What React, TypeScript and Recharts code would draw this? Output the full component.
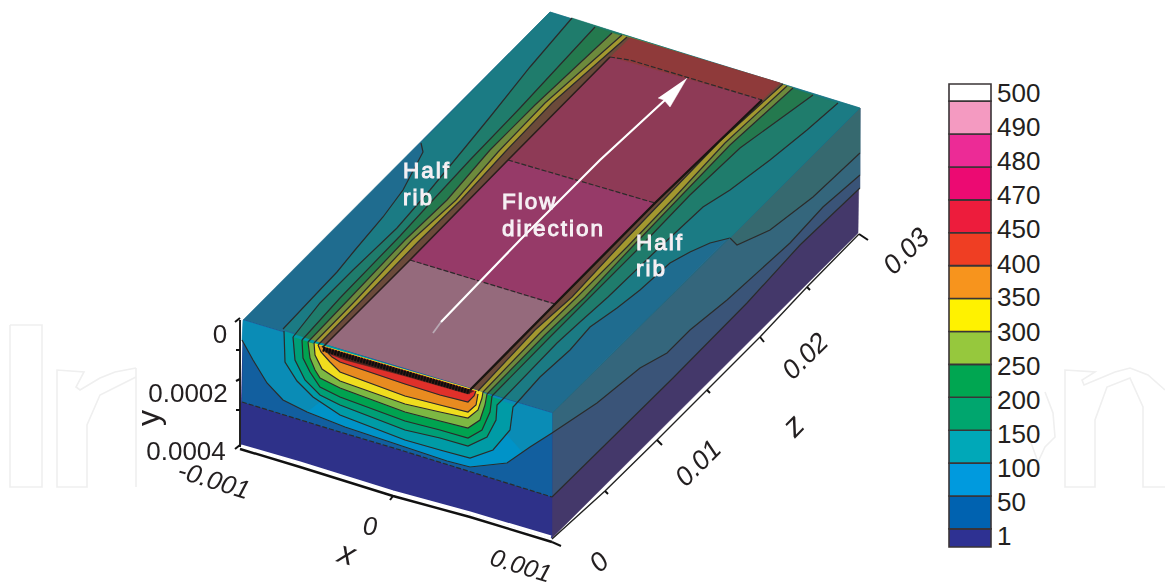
import React from 'react';
import { BarChart, Bar, ScatterChart, Scatter, XAxis, YAxis, Cell } from 'recharts';

type Pt = [number, number];

// picture-plane readings of the block faces
const frontFace: Pt[] = [[243, 320], [552, 413], [552, 538], [240, 446]];
const topFace: Pt[] = [[243, 320], [550, 12], [860, 108], [552, 413]];
const rightFace: Pt[] = [[552, 413], [860, 108], [858, 233], [552, 538]];

// right face contours
const rightLine1: Pt[] = [[730, 238], [737, 245], [770, 230], [813, 197], [860, 153]];
const rightLine2: Pt[] = [[552, 433], [597, 403], [640, 368], [667, 353], [690, 330], [727, 300], [790, 243], [823, 207], [860, 175]];
const rightLine3: Pt[] = [[552, 497], [607, 443], [673, 378], [747, 303], [800, 245], [860, 188]];
const faceEdgeUpper: Pt[] = [[552, 413], [730, 238], [860, 108]];

// top face contours, front edge to back edge
const left0: Pt[] = [[283, 329], [317, 293], [337, 272], [355, 250], [383, 217], [403, 190], [423, 152], [421, 143]];
const left1: Pt[] = [[293, 337], [320, 303], [353, 270], [397, 228], [430, 190], [463, 150], [490, 117], [530, 67], [572, 18]];
const left2: Pt[] = [[302, 340], [340, 298], [400, 236], [433, 200], [470, 160], [520, 108], [595, 27]];
const left3: Pt[] = [[308, 342], [350, 298], [405, 240], [447, 200], [490, 150], [535, 105], [612, 33]];
const left4: Pt[] = [[314, 343], [356, 300], [412, 240], [456, 200], [498, 152], [545, 103], [622, 35]];
const left5: Pt[] = [[318, 345], [362, 300], [418, 242], [461, 200], [505, 152], [552, 103], [627, 37]];
const right0: Pt[] = [[515, 405], [540, 377], [570, 350], [590, 327], [617, 308], [640, 290], [670, 263], [690, 252], [710, 243], [730, 238]];
const right1: Pt[] = [[502, 400], [557, 343], [580, 322], [608, 297], [660, 247], [703, 207], [730, 190], [770, 160], [807, 130], [838, 103]];
const right2: Pt[] = [[492, 396], [550, 337], [590, 297], [640, 247], [690, 195], [740, 148], [813, 95]];
const right3: Pt[] = [[487, 394], [545, 335], [585, 297], [632, 247], [680, 197], [730, 145], [793, 88]];
const right4: Pt[] = [[483, 392], [540, 333], [577, 297], [627, 247], [675, 197], [725, 143], [787, 86]];
const right5: Pt[] = [[478, 391], [535, 330], [572, 297], [622, 243], [670, 193], [720, 141], [783, 84]];

// front face contours, left crossing to right crossing
const frontDark: Pt[] = [[242, 402], [330, 429], [397, 449], [468, 471], [552, 497]];
const frontBlue: Pt[] = [[242, 340], [253, 360], [267, 383], [283, 400], [307, 412], [345, 427], [405, 447], [447, 461], [470, 467], [507, 463], [530, 447], [552, 433]];
const frontBright: Pt[] = [[307, 412], [345, 427], [405, 447], [447, 461], [470, 467], [507, 463], [522, 452], [507, 435], [493, 450], [470, 458], [440, 450], [405, 440], [340, 415], [320, 402]];
const front0: Pt[] = [[284, 331], [285, 362], [297, 381], [313, 397], [340, 415], [405, 440], [440, 450], [470, 458], [493, 450], [510, 430], [513, 407], [515, 405]];
const front1: Pt[] = [[293, 337], [295, 360], [305, 380], [320, 395], [340, 405], [405, 430], [440, 438], [468, 446], [487, 437], [496, 420], [497, 405], [502, 400]];
const front2: Pt[] = [[302, 340], [303, 358], [310, 372], [320, 387], [340, 397], [405, 421], [440, 430], [468, 438], [482, 430], [490, 412], [492, 396]];
const front3: Pt[] = [[308, 342], [310, 358], [315, 370], [320, 378], [340, 388], [405, 412], [440, 421], [468, 428], [480, 420], [485, 405], [487, 394]];
const front4: Pt[] = [[314, 343], [315, 355], [322, 369], [340, 381], [405, 404], [440, 412], [468, 418], [478, 410], [482, 398], [483, 392]];
const front5: Pt[] = [[318, 345], [321, 352], [330, 362], [340, 372], [405, 396], [440, 405], [468, 412], [476, 405], [478, 394]];
const front6: Pt[] = [[322, 346], [325, 350], [332, 357], [340, 362], [405, 384], [440, 395], [468, 402], [474, 396], [476, 391]];
const front7: Pt[] = [[323, 347], [330, 354], [345, 360], [405, 376], [440, 386], [468, 394], [474, 391]];

// channel panels
const panelFront: Pt[] = [[323, 347], [470, 390], [555, 304], [410, 260]];
const panelMiddle: Pt[] = [[410, 260], [555, 304], [655, 203], [508, 160]];
const panelBack: Pt[] = [[508, 160], [655, 203], [762, 100], [610, 57]];
const backStrip: Pt[] = [[630, 38], [780, 83], [762, 100], [610, 57]];
const channelFront: Pt[] = [[323, 349], [470, 392]];
const channelLeft: Pt[] = [[323, 347], [410, 260], [508, 160], [610, 57]];
const channelRight: Pt[] = [[470, 390], [555, 304], [655, 203], [762, 100]];
const panelLines: Pt[][] = [[[410, 260], [555, 304]], [[508, 160], [655, 203]], [[610, 57], [630, 60], [762, 100]]];

// flow arrow
const arrowTail: Pt[] = [[433, 333], [441, 322]];
const arrowShaft: Pt[] = [[441, 322], [520, 240], [600, 160], [665, 100]];
const arrowHead: Pt[] = [[687, 78], [670, 107], [664, 100], [658, 98]];

// axes
const axisY: Pt[] = [[240, 320], [240, 447]];
const axisX: Pt[] = [[240, 449], [300, 467], [393, 496], [470, 517], [552, 542]];
const axisXWhite: Pt[] = [[241, 446], [300, 463], [393, 492], [470, 513], [551, 537]];
const axisZ: Pt[] = [[552, 539], [605, 491], [657, 440], [707, 390], [760, 337], [807, 287], [859, 234]];
const tickMarks: Pt[][] = [
    [[235, 322], [240, 318]], [[236, 350], [240, 350]], [[236, 381], [240, 379]], [[236, 410], [240, 410]], [[235, 449], [240, 445]],
    [[393, 496], [390, 500]], [[552, 542], [561, 546]], [[657, 440], [662, 445]], [[760, 337], [764, 342]], [[605, 491], [608, 494]],
    [[707, 390], [710, 393]], [[859, 234], [868, 240]], [[807, 287], [810, 290]],
];

// watermark letters
const markLetters: Pt[][] = [
    [[10, 325], [42, 325], [42, 487], [10, 487], [10, 325]],
    [[136, 368], [115, 372], [100, 378], [80, 390], [76, 387], [84, 372], [57, 370], [57, 487], [87, 487], [87, 425], [100, 395], [136, 377]],
    [[136, 368], [136, 487]],
    [[1045, 392], [1053, 413], [1055, 437], [1045, 447], [1038, 462], [1030, 440]],
    [[1165, 390], [1148, 375], [1130, 368], [1115, 372], [1084, 385], [1082, 380], [1095, 372], [1065, 370], [1065, 487], [1095, 487], [1095, 420], [1107, 387], [1130, 378], [1143, 407], [1143, 487], [1165, 487]],
];

// text on the picture
const plotLabels = ['Half', 'rib', 'Flow', 'direction', 'Half', 'rib'];
const plotLabelAt: Pt[] = [[403, 178], [403, 205], [502, 209], [502, 236], [636, 250], [636, 276]];
const axisLabels = ['0', '0.0002', '0.0004', 'y', '-0.001', '0', 'x', '0.001', '0', '0.01', 'z', '0.02', '0.03'];
const axisLabelAt: Pt[] = [[220, 334], [188, 393], [186, 451], [148, 418], [214, 480], [370, 526], [347, 553], [521, 565], [599, 562], [698, 463], [793, 425], [805, 356], [906, 251]];
const axisLabelTilt = [0, 0, 0, -90, 17, 0, 17, 17, -45, -45, -45, -45, -45];
const axisLabelItalic = [false, false, false, false, true, true, true, true, true, true, true, true, true];
const axisLabelSize = [26, 26, 26, 32, 26, 26, 32, 25, 27, 27, 32, 27, 27];

// colour bar
const legendLabels = ['1', '50', '100', '150', '200', '250', '300', '350', '400', '450', '470', '480', '490', '500'];
const legendTickAt = [0.33, 1.37, 2.4, 3.44, 4.48, 5.51, 6.55, 7.59, 8.62, 9.66, 10.7, 11.73, 12.77, 13.8];
const legendSpans = [0.55, 1, 1, 1, 1, 1, 1, 1, 1, 1, 1, 1, 1, 1, 0.52];
const legendColors = ['#2e3192', '#0062b0', '#009ade', '#00a8b8', '#00a66e', '#00a651', '#96c83d', '#fff200', '#f7941d', '#ef3e23', '#ed1c3c', '#ec0a72', '#ec2b96', '#f49ac1', '#ffffff'];

const toPoints = (pts: Pt[]) => pts.map(([x, y]) => ({ x, y }));
const noDot = () => <g />;

const fillRegion = (pts: Pt[], color: string, key: string) => (
    <Scatter
        key={key}
        data={toPoints(pts)}
        shape={noDot}
        isAnimationActive={false}
        line={{ fill: color, stroke: color, strokeWidth: 0.5 }}
    />
);

const strokeLine = (pts: Pt[], key: string, color = '#2b2b2b', width = 1.2, dash?: string) => (
    <Scatter
        key={key}
        data={toPoints(pts)}
        shape={noDot}
        isAnimationActive={false}
        line={{ fill: 'none', stroke: color, strokeWidth: width, strokeDasharray: dash }}
    />
);

const textDot = (props: any) => {
    const { cx, cy, payload } = props;
    return (
        <text
            x={cx}
            y={cy}
            transform={payload.tilt ? `rotate(${payload.tilt} ${cx} ${cy})` : undefined}
            textAnchor={payload.anchor}
            dominantBaseline={payload.baseline}
            fontFamily="Liberation Sans"
            fontSize={payload.size}
            fontStyle={payload.italic ? 'italic' : 'normal'}
            fill={payload.color}
            letterSpacing={payload.spacing}
            stroke={payload.outline}
            strokeWidth={payload.outline ? 1 : 0}
        >
            {payload.text}
        </text>
    );
};

const plotTextData = plotLabels.map((text, i) => ({
    x: plotLabelAt[i][0], y: plotLabelAt[i][1], text, anchor: 'start', baseline: 'auto',
    size: 22.5, color: '#f6f0f4', spacing: 2, outline: '#f6f0f4', tilt: 0, italic: false,
}));
const axisTextData = axisLabels.map((text, i) => ({
    x: axisLabelAt[i][0], y: axisLabelAt[i][1], text, anchor: 'middle', baseline: 'central',
    size: axisLabelSize[i], color: '#231f20', spacing: 0, tilt: axisLabelTilt[i], italic: axisLabelItalic[i],
}));

const topBands: [Pt[], string][] = [
    [[...left0, [550, 12], [860, 108], ...[...right0].reverse()], '#1b7b84'],
    [[...left1, ...[...right1].reverse()], '#1f7c6c'],
    [[...left2, ...[...right2].reverse()], '#24794e'],
    [[...left3, ...[...right3].reverse()], '#6d8a3c'],
    [[...left4, ...[...right4].reverse()], '#a3982f'],
    [[...left5, ...[...right5].reverse()], '#6b4a3a'],
];
const frontBands: [Pt[], string][] = [
    [[[243, 320], [552, 413], ...[...frontDark].reverse()], '#125f9f'],
    [[[243, 320], ...frontBlue, [552, 413]], '#0a8cb6'],
    [frontBright, '#0093c8'],
    [front0, '#009ba6'],
    [front1, '#009f76'],
    [front2, '#00a350'],
    [front3, '#7db843'],
    [front4, '#f0dd1e'],
    [front5, '#e88b20'],
    [front6, '#e0302a'],
    [front7, '#4a241e'],
];
const contourLines = [left0, left1, left2, left3, left4, left5, right0, right1, right2, right3, right4, right5, rightLine1, rightLine2, rightLine3, frontBlue, front0, front1, front2, front3, front4, front5, front6];

const legendRow = [Object.fromEntries(legendSpans.map((v, i) => [`band${i}`, v]))];

const App: React.FC = () => (
    <div style={{ position: 'absolute', left: 0, top: 0, width: 1165, height: 588, background: '#fff', overflow: 'hidden' }}>
        <div style={{ position: 'absolute', left: 0, top: 0, filter: 'blur(0.5px)' }}>
            <ScatterChart width={1165} height={588} margin={{ top: 0, right: 0, bottom: 0, left: 0 }}>
                <XAxis type="number" dataKey="x" domain={[0, 1165]} hide />
                <YAxis type="number" dataKey="y" domain={[0, 588]} reversed hide />
                {markLetters.map((pts, i) => strokeLine(pts, `mark-${i}`, '#efefef', 1.6))}
                {fillRegion(rightFace, '#44386a', 'right-base')}
                {fillRegion([...rightLine3, [860, 108], [552, 413]], '#3a5478', 'right-a')}
                {fillRegion([...rightLine2, [860, 108], [552, 413]], '#34667c', 'right-b')}
                {fillRegion([[730, 238], ...rightLine1.slice(1), [860, 108]], '#36696f', 'right-c')}
                {fillRegion(topFace, '#1f6c8f', 'top-base')}
                {topBands.map(([pts, color], i) => fillRegion(pts, color, `top-${i}`))}
                {fillRegion(backStrip, '#8f3a3a', 'back-strip')}
                {fillRegion(panelFront, '#956a7c', 'panel-front')}
                {fillRegion(panelMiddle, '#963a68', 'panel-middle')}
                {fillRegion(panelBack, '#8e3a56', 'panel-back')}
                {fillRegion(frontFace, '#2e3189', 'front-base')}
                {frontBands.map(([pts, color], i) => fillRegion(pts, color, `front-${i}`))}
                {contourLines.map((pts, i) => strokeLine(pts, `contour-${i}`))}
                {strokeLine(frontDark, 'front-dark', '#2b2b2b', 1.2, '5 2')}
                {panelLines.map((pts, i) => strokeLine(pts, `panel-${i}`, '#2b2b2b', 1.2, '5 2'))}
                {strokeLine(channelLeft, 'channel-left', '#2a1f1c', 1.6)}
                {strokeLine(channelRight, 'channel-right', '#1a1512', 2.4)}
                {strokeLine(channelFront, 'channel-front-base', '#3a1a16', 3)}
                {strokeLine(channelFront, 'channel-front', '#0d0d0d', 5, '2 1')}
                {strokeLine(faceEdgeUpper, 'face-edge', '#1b6f80', 0.5)}
                {strokeLine(arrowTail, 'arrow-tail', '#b9a9b4', 1.8)}
                {strokeLine(arrowShaft, 'arrow-shaft', '#ffffff', 2.2)}
                {fillRegion(arrowHead, '#ffffff', 'arrow-head')}
                {strokeLine(axisXWhite, 'axis-x-white', '#ffffff', 3)}
                {strokeLine(axisX, 'axis-x', '#111111', 2.4)}
                {strokeLine(axisY, 'axis-y', '#222222', 2)}
                {strokeLine(axisZ, 'axis-z', '#222222', 1.4)}
                {tickMarks.map((pts, i) => strokeLine(pts, `tick-${i}`, '#111111', 2))}
                <Scatter data={plotTextData} shape={textDot} isAnimationActive={false} />
                <Scatter data={axisTextData} shape={textDot} isAnimationActive={false} />
            </ScatterChart>
        </div>
        <div style={{ position: 'absolute', left: 930, top: 70 }}>
            <BarChart width={120} height={490} data={legendRow} margin={{ top: 14, right: 0, bottom: 13, left: 19 }} barCategoryGap={0}>
                <XAxis hide />
                <YAxis
                    orientation="right"
                    type="number"
                    width={59}
                    domain={[0, 14.07]}
                    ticks={legendTickAt}
                    interval={0}
                    axisLine={false}
                    tickLine={false}
                    tickMargin={0}
                    tick={{ fontFamily: 'Liberation Sans', fontSize: 26, fill: '#231f20' }}
                    tickFormatter={(_: number, i: number) => legendLabels[i]}
                />
                {legendSpans.map((_, i) => (
                    <Bar key={i} dataKey={`band${i}`} stackId="bar" isAnimationActive={false} stroke="#3a3436" strokeWidth={1.6}>
                        <Cell fill={legendColors[i]} />
                    </Bar>
                ))}
            </BarChart>
        </div>
    </div>
);

export default App;
